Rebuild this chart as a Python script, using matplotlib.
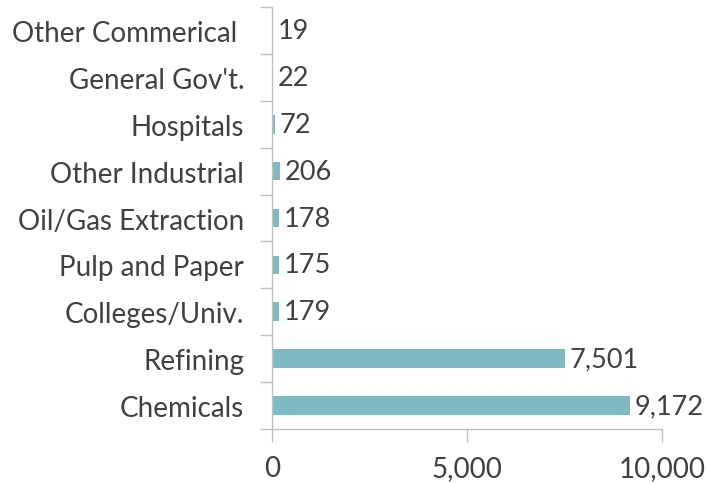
import matplotlib
matplotlib.use("Agg")
import matplotlib.pyplot as plt

# Data (bottom to top)
categories = ["Chemicals", "Refining", "Colleges/Univ.", "Pulp and Paper",
              "Oil/Gas Extraction", "Other Industrial", "Hospitals",
              "General Gov't.", "Other Commerical "]
values = [9172, 7501, 179, 175, 178, 206, 72, 22, 19]
xticks = [0, 5000, 10000]

bar_color = "#7FB9C1"
text_color = "#404040"
axis_color = "#BFBFBF"

plt.rcParams['font.family'] = ['Lato', 'DejaVu Sans']

fig = plt.figure(figsize=(7.06, 4.85), dpi=100)
ax = fig.add_axes([0.385, 0.1134, 0.553, 0.8701])

pos = range(len(categories))
ax.barh(pos, values, height=0.4, color=bar_color)

for p, v in zip(pos, values):
    ax.text(v + 130, p, f"{v:,}", va="center", ha="left",
            fontsize=19.5, color=text_color)

ax.set_xlim(0, 10000)
ax.set_ylim(-0.5, len(categories) - 0.5)

ax.set_xticks(xticks)
ax.set_xticklabels([f"{t:,}" for t in xticks], fontsize=20, color=text_color)

# category labels centered, tick marks between categories
ax.set_yticks(list(pos))
ax.set_yticklabels(categories, fontsize=20, color=text_color)
ax.tick_params(axis="y", length=0, pad=20)
ax.set_yticks([i - 0.5 for i in range(len(categories) + 1)], minor=True)
ax.tick_params(axis="y", which="minor", length=9, color=axis_color, width=1)
ax.tick_params(axis="x", length=9, color=axis_color, width=1, pad=10)

for s in ["top", "right"]:
    ax.spines[s].set_visible(False)
for s in ["left", "bottom"]:
    ax.spines[s].set_color(axis_color)
    ax.spines[s].set_linewidth(1)

fig.savefig("out.png", dpi=100)
